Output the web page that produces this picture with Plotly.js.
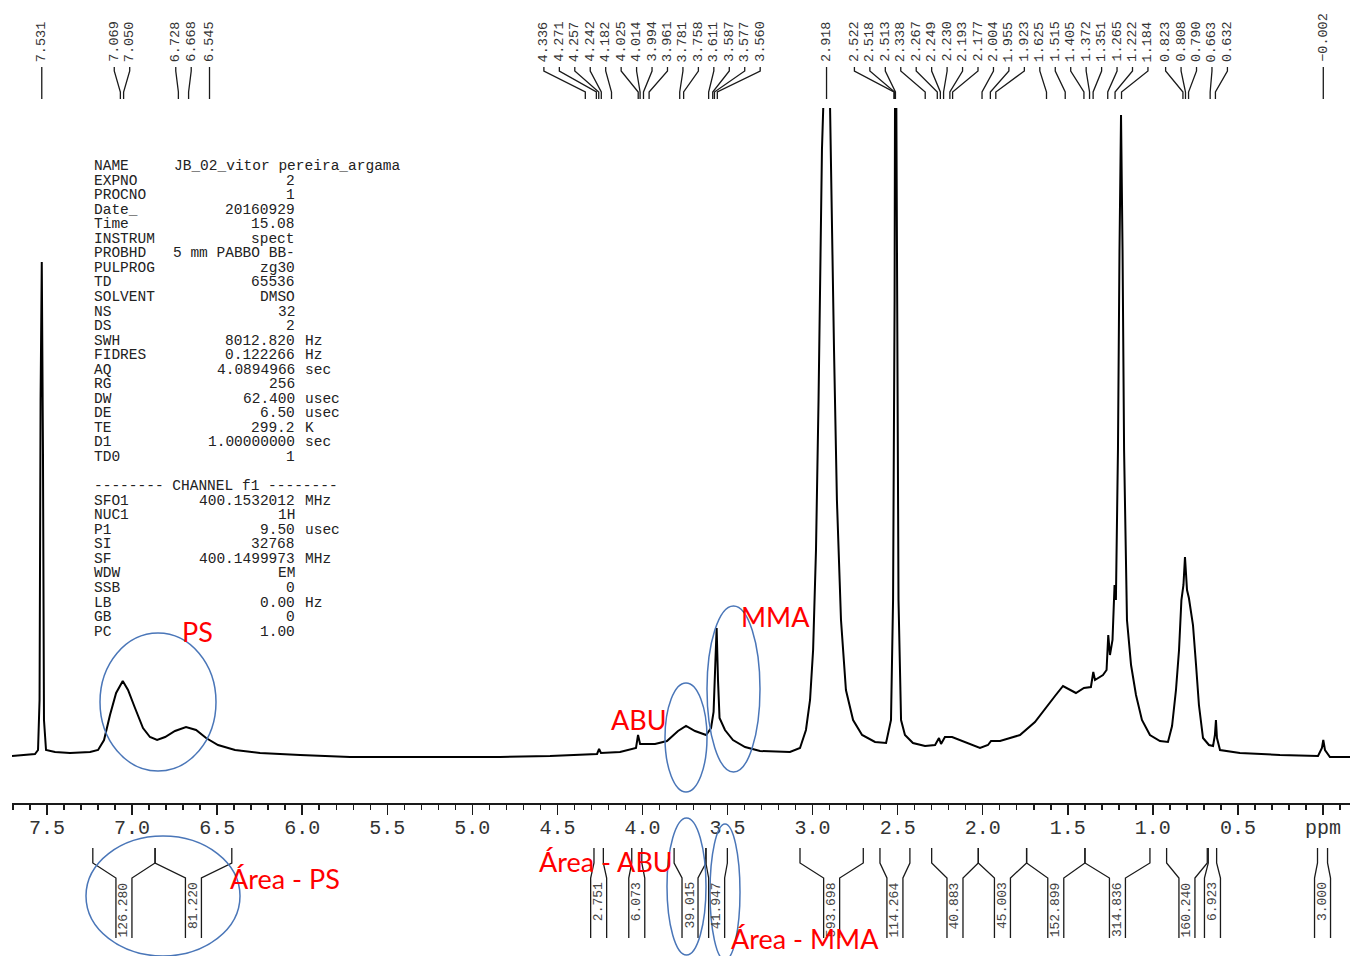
<!DOCTYPE html>
<html><head><meta charset="utf-8">
<script src="https://cdn.plot.ly/plotly-3.0.1.min.js"></script>
<style>html,body{margin:0;padding:0;background:#fff}</style>
</head><body><div id="chart" style="width:1351px;height:956px"></div>
<script>
// ---- spectrum trace (ppm, intensity) ----
const specPpm = [7.706,7.629,7.571,7.553,7.544,7.538,7.531,7.524,7.518,7.506,
7.453,7.365,7.247,7.200,7.165,7.130,7.094,7.055,7.024,6.983,
6.936,6.895,6.853,6.806,6.748,6.683,6.624,6.565,6.495,6.395,
6.248,6.013,5.719,5.425,5.131,4.837,4.543,4.367,4.267,4.255,
4.244,4.132,4.038,4.026,4.014,3.926,3.856,3.791,3.744,3.691,
3.626,3.597,3.582,3.571,3.564,3.556,3.547,3.515,3.468,3.397,
3.309,3.133,3.074,3.039,3.015,2.997,2.980,2.965,2.953,2.945,
2.936,2.917,2.898,2.889,2.874,2.857,2.833,2.804,2.762,2.709,
2.633,2.568,2.539,2.527,2.518,2.513,2.504,2.495,2.480,2.457,
2.410,2.339,2.280,2.257,2.245,2.222,2.180,2.104,2.016,1.969,
1.951,1.898,1.781,1.693,1.628,1.575,1.528,1.487,1.452,1.405,
1.364,1.350,1.340,1.293,1.272,1.262,1.252,1.237,1.225,1.217,
1.205,1.196,1.187,1.178,1.169,1.152,1.128,1.099,1.064,1.017,
0.958,0.911,0.887,0.864,0.846,0.832,0.820,0.811,0.799,0.788,
0.764,0.746,0.729,0.705,0.670,0.646,0.635,0.629,0.623,0.605,
0.488,0.253,0.029,0.006,-0.002,-0.012,-0.041,-0.159];
const specInt = [1,2,3,7,57,357,495,307,37,7,
5,4,5,7,17,42,64,76,67,49,
29,20,17,20,26,30,27,19,12,7,
4,2,0,0,0,0,1,2,3,8,
4,5,9,22,13,13,16,26,31,26,
22,29,45,97,129,77,39,27,17,10,
6,5,9,27,57,107,207,357,507,607,
657,907,657,557,407,257,137,67,37,22,
15,14,37,157,457,857,457,157,37,22,
14,11,12,19,13,20,20,15,9,12,
16,16,22,35,50,61,71,67,64,69,
70,85,77,82,87,122,102,117,172,157,
307,507,642,507,307,137,92,62,37,22,
16,15,31,67,107,157,172,200,167,159,
132,92,52,19,12,11,22,37,19,7,
4,2,1,9,17,7,0,0];

// ---- peak picking labels ----
const peakPpm = [7.531,7.069,7.050,6.728,6.668,6.545,
4.336,4.271,4.257,4.242,4.182,4.025,4.014,3.994,3.961,3.781,3.758,3.611,3.587,3.577,3.560,
2.918,
2.522,2.518,2.513,2.338,2.267,2.249,2.230,2.193,2.177,2.004,1.955,1.923,1.625,1.515,1.405,1.372,1.351,1.265,1.222,1.184,0.823,0.808,0.790,0.663,0.632,
-0.002];

// ---- integrals ----
const intFrom = [7.231,6.865,4.285,4.063,3.814,3.627,3.074,2.604,2.300,2.026,1.742,1.399,0.919,0.674,0.032];
const intTo   = [6.865,6.414,4.230,4.004,3.627,3.501,2.702,2.428,2.026,1.742,1.399,1.017,0.680,0.625,-0.027];
const intVal  = ['126.280','81.220','2.751','6.073','39.015','41.947','593.698','114.264','40.883','45.003','152.899','314.836','160.240','6.923','3.000'];

// ---- axis ticks ----
const tickVals = [7.5,7.0,6.5,6.0,5.5,5.0,4.5,4.0,3.5,3.0,2.5,2.0,1.5,1.0,0.5,0.0];
const tickText = ['7.5','7.0','6.5','6.0','5.5','5.0','4.5','4.0','3.5','3.0','2.5','2.0','1.5','1.0','0.5','ppm'];

// ---- acquisition parameters ----
const paramKeys = ['NAME','EXPNO','PROCNO','Date_','Time','INSTRUM','PROBHD','PULPROG','TD','SOLVENT','NS','DS','SWH','FIDRES','AQ','RG','DW','DE','TE','D1','TD0','',
'SFO1','NUC1','P1','SI','SF','WDW','SSB','LB','GB','PC'];
const paramVals = ['JB_02_vitor pereira_argama','2','1','20160929','15.08','spect','5 mm PABBO BB-','zg30','65536','DMSO','32','2','8012.820','0.122266','4.0894966','256','62.400','6.50','299.2','1.00000000','1','',
'400.1532012','1H','9.50','32768','400.1499973','EM','0','0.00','0','1.00'];
const paramUnits = ['','','','','','','','','','','','','Hz','Hz','sec','','usec','usec','K','sec','','',
'MHz','','usec','','MHz','','','Hz','',''];
const channelLine = '-------- CHANNEL f1 --------';

// ---- red notes ----
const noteText = ['PS','ABU','MMA','Área - PS','Área - ABU','Área - MMA'];

// ================= layout helpers =================
const W = 1351, H = 956;
const ML = 12, MR = 1, MT = 108, MB = 153;
const PW = W - ML - MR, PH = H - MT - MB;
const XR = [7.706, -0.159];
const PXPPM = PW / (XR[0] - XR[1]);
const px = v => (v - ML) / PW;            // pixel x -> paper
const py = v => (MT + PH - v) / PH;       // pixel y -> paper
const NB = '\u00A0';

const shapes = [], annotations = [];
const ink = '#1a1a1a';
const mono = 'Liberation Mono, monospace';

// peak labels: spread with minimum spacing
const d = 15.45 / PXPPM;
let groups = peakPpm.map(p => ({m: [p]}));
const gpos = g => { const n = g.m.length; const c = g.m.reduce((a, b) => a + b, 0) / n; return g.m.map((_, k) => c + ((n - 1) / 2 - k) * d); };
let changed = true;
while (changed) {
  changed = false;
  for (let i = 0; i < groups.length - 1; i++) {
    const a = gpos(groups[i]), b = gpos(groups[i + 1]);
    if (a[a.length - 1] - b[0] < d - 1e-9) { groups[i].m = groups[i].m.concat(groups[i + 1].m); groups.splice(i + 1, 1); changed = true; break; }
  }
}
const labelPos = [].concat(...groups.map(gpos));
peakPpm.forEach((p, i) => {
  const L = labelPos[i];
  shapes.push({type: 'path', xref: 'x', yref: 'paper', path: `M ${L},${py(67)} L ${L},${py(71)} L ${p},${py(92)} L ${p},${py(99)}`, line: {color: ink, width: 1.3}});
  annotations.push({x: L, xref: 'x', y: py(64), yref: 'paper', xanchor: 'center', yanchor: 'bottom', textangle: -90, showarrow: false,
    text: p.toFixed(3).replace('-', '\u2212'), font: {family: mono, size: 13.5, color: '#333'}});
});

// integrals
const fl = 8 / PXPPM;
intFrom.forEach((a, i) => {
  const b = intTo[i], c = (a + b) / 2;
  shapes.push({type: 'path', xref: 'x', yref: 'paper', path: `M ${a},${py(848)} L ${a},${py(863)} L ${c + fl},${py(878)} L ${c + fl},${py(938)}`, line: {color: ink, width: 1.3}});
  shapes.push({type: 'path', xref: 'x', yref: 'paper', path: `M ${b},${py(848)} L ${b},${py(863)} L ${c - fl},${py(878)} L ${c - fl},${py(938)}`, line: {color: ink, width: 1.3}});
  annotations.push({x: c, xref: 'x', y: py(880), yref: 'paper', xanchor: 'center', yanchor: 'top', textangle: -90, showarrow: false,
    text: intVal[i], font: {family: mono, size: 13, color: '#444'}});
});

// parameter block: key / right-aligned value / unit
const pfont = {family: mono, size: 14.5, color: '#222'};
paramKeys.forEach((k, i) => {
  const yy = py(166 + (i < 21 ? i : i + 1) * 14.55);
  const base = {xref: 'paper', y: yy, yref: 'paper', yanchor: 'middle', showarrow: false, font: pfont, borderpad: 0};
  if (k === '') {
    annotations.push(Object.assign({}, base, {x: px(93), xanchor: 'left', text: channelLine.replace(/ /g, NB)}));
    return;
  }
  annotations.push(Object.assign({}, base, {x: px(93), xanchor: 'left', text: k}));
  if (k === 'NAME') annotations.push(Object.assign({}, base, {x: px(173), xanchor: 'left', text: paramVals[i].replace(/ /g, NB)}));
  else annotations.push(Object.assign({}, base, {x: px(296), xanchor: 'right', text: paramVals[i].replace(/ /g, NB)}));
  if (paramUnits[i]) annotations.push(Object.assign({}, base, {x: px(304), xanchor: 'left', text: paramUnits[i]}));
});

// red notes and blue ellipses
const notePos = [[197, 631], [639, 719], [776, 616], [285, 879], [606, 861], [805, 938]];
noteText.forEach((t, i) => {
  annotations.push({x: px(notePos[i][0]), xref: 'paper', y: py(notePos[i][1]), yref: 'paper', xanchor: 'center', yanchor: 'middle', showarrow: false, borderpad: 0,
    text: t, font: {family: 'Lato, Noto Sans, sans-serif', size: 27, color: '#ff0000'}});
});
const ellipses = [[100, 633, 216, 771], [665, 683, 707, 792], [707, 606, 760, 772], [86, 836, 240, 956], [667, 818, 706, 955], [710, 824, 740, 960]];
ellipses.forEach(e => shapes.push({type: 'circle', xref: 'paper', yref: 'paper', x0: px(e[0]), x1: px(e[2]), y0: py(e[3]), y1: py(e[1]), line: {color: '#4a76b8', width: 1.5}}));

const trace = {x: specPpm, y: specInt, type: 'scatter', mode: 'lines', line: {color: '#000', width: 2}, hoverinfo: 'skip'};

const layout = {
  width: W, height: H, margin: {l: ML, r: MR, t: MT, b: MB, pad: 0},
  paper_bgcolor: '#fff', plot_bgcolor: '#fff', showlegend: false,
  xaxis: {range: XR, showgrid: false, zeroline: false, showline: true, linecolor: ink, linewidth: 2,
    ticks: 'outside', ticklen: 10, tickwidth: 1.5, tickcolor: ink, tickmode: 'array', tickvals: tickVals, ticktext: tickText,
    ticklabelstandoff: -5,
    tickfont: {family: mono, size: 20, color: '#333'},
    minor: {tickmode: 'linear', tick0: 0, dtick: 0.1, ticks: 'outside', ticklen: 5, tickwidth: 1.5, tickcolor: ink}},
  yaxis: {range: [-46, 649], visible: false, showgrid: false, zeroline: false},
  shapes: shapes, annotations: annotations
};
Plotly.newPlot('chart', [trace], layout, {displayModeBar: false, staticPlot: true});
</script></body></html>
